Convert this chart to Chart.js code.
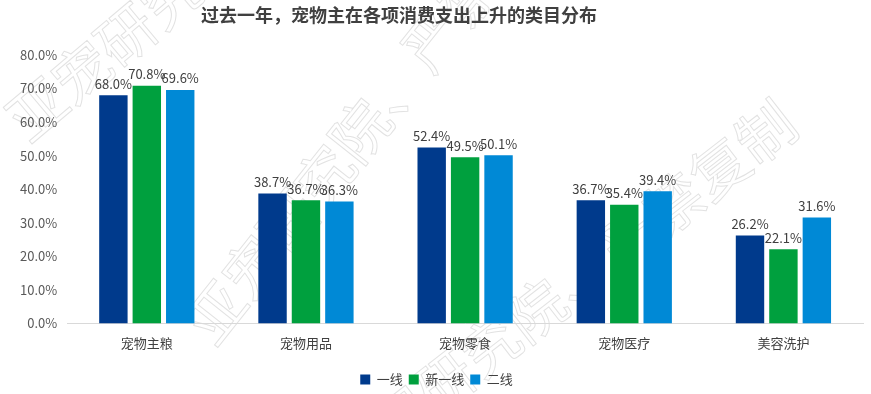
<!DOCTYPE html>
<html>
<head>
<meta charset="utf-8">
<script src="https://cdn.jsdelivr.net/npm/chart.js@4"></script>
<style>
  html, body { margin: 0; padding: 0; background: #fff; }
  #wrap { width: 871px; height: 394px; }
</style>
</head>
<body>
<div id="wrap"><canvas id="c" width="871" height="394"></canvas></div>
<script>
// dados do gráfico
var categorias = ["宠物主粮", "宠物用品", "宠物零食", "宠物医疗", "美容洗护"];
var yixian = [68.0, 38.7, 52.4, 36.7, 26.2];
var xinyixian = [70.8, 36.7, 49.5, 35.4, 22.1];
var erxian = [69.6, 36.3, 50.1, 39.4, 31.6];
var titulo = "过去一年，宠物主在各项消费支出上升的类目分布";
var marca = "亚宠研究院、严禁复制";
var fonte = "'Noto Sans CJK SC', 'Noto Sans', sans-serif";

// marca d'água + título
var fundo = {
    id: "fundo",
    beforeDraw: (chart) => {
        var ctx = chart.ctx;
        var linhas = [[15, 128, -0.70], [198, 335, -0.90], [330, 470, -0.66]];
        linhas.forEach((l) => {
            ctx.save();
            ctx.strokeStyle = "rgba(190,190,190,0.45)";
            ctx.lineWidth = 1;
            ctx.font = "58px " + fonte;
            ctx.translate(l[0], l[1]);
            ctx.rotate(l[2]);
            ctx.strokeText(marca, 0, 0);
            ctx.restore();
        });
    },
    afterDraw: (chart) => {
        var ctx = chart.ctx;
        ctx.save();
        ctx.font = "bold 18px " + fonte;
        ctx.fillStyle = "#404040";
        ctx.textAlign = "center";
        ctx.textBaseline = "middle";
        ctx.fillText(titulo, 399, 15);
        ctx.restore();
    }
};

// rótulos em cima das barras
var rotulos = {
    id: "rotulos",
    afterDatasetsDraw: (chart) => {
        var ctx = chart.ctx;
        ctx.save();
        ctx.font = "13px " + fonte;
        ctx.fillStyle = "#404040";
        ctx.textAlign = "center";
        ctx.textBaseline = "bottom";
        chart.data.datasets.forEach((ds, i) => {
            chart.getDatasetMeta(i).data.forEach((bar, j) => {
                ctx.fillText(ds.data[j].toFixed(1) + "%", bar.x, bar.y - 5);
            });
        });
        ctx.restore();
    }
};

new Chart(document.getElementById("c"), {
    type: "bar",
    data: {
        labels: categorias,
        datasets: [
            { label: "一线", data: yixian, backgroundColor: "#003A8C" },
            { label: "新一线", data: xinyixian, backgroundColor: "#00A03E" },
            { label: "二线", data: erxian, backgroundColor: "#0089D6" }
        ]
    },
    options: {
        responsive: false,
        animation: false,
        layout: { padding: { left: 10, right: 8, top: 55, bottom: -2 } },
        datasets: {
            bar: { categoryPercentage: 0.63, barPercentage: 0.85 }
        },
        plugins: {
            title: { display: false },
            legend: {
                position: "bottom",
                labels: {
                    boxWidth: 10,
                    boxHeight: 10,
                    padding: 6,
                    color: "#404040",
                    font: { family: fonte, size: 13 }
                }
            },
            tooltip: { enabled: false }
        },
        scales: {
            x: {
                grid: { display: false, drawTicks: false },
                border: { display: true, color: "#d9d9d9" },
                ticks: { color: "#404040", font: { family: fonte, size: 13 }, padding: 12 },
                afterFit: (s) => { s.height += 4; }
            },
            y: {
                min: 0,
                max: 80,
                grid: { display: false, drawTicks: false },
                border: { display: false },
                ticks: {
                    stepSize: 10,
                    color: "#595959",
                    padding: 10,
                    font: { family: fonte, size: 13 },
                    callback: (v) => v.toFixed(1) + "%"
                }
            }
        }
    },
    plugins: [fundo, rotulos]
});
</script>
</body>
</html>
